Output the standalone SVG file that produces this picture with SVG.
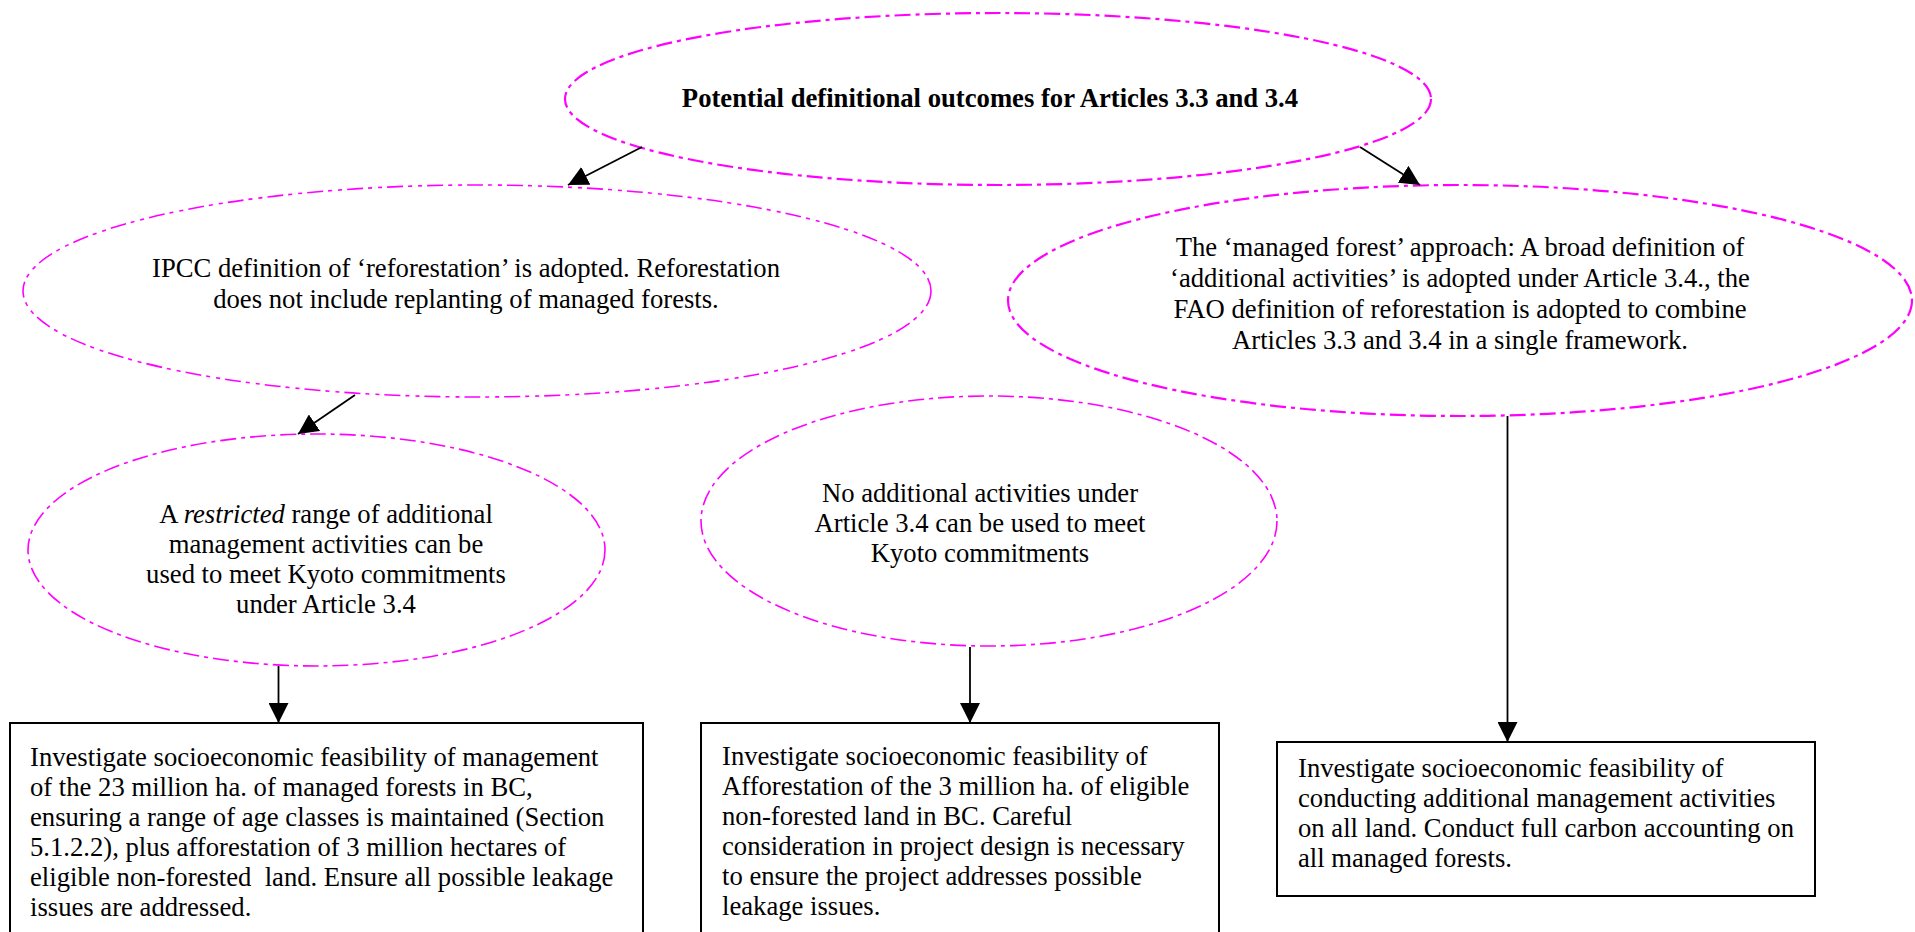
<svg xmlns="http://www.w3.org/2000/svg" width="1915" height="932" viewBox="0 0 1915 932">
<style>
  .bg { fill: #ffffff; }
  .oval { fill: #ffffff; stroke: #ff00ff; }
  .thick { stroke-width: 2.2; stroke-dasharray: 16 5 4 5; }
  .thin { stroke-width: 1.6; stroke-dasharray: 16 5 4 5; }
  .dd { stroke-width: 1.6; stroke-dasharray: 16 5 4 6 4 5; }
  .box { fill: #ffffff; stroke: #000000; stroke-width: 2; }
  text { font-family: "Liberation Serif", "Times New Roman", serif; font-size: 26.67px; fill: #000000; white-space: pre; }
  .c { text-anchor: middle; }
  .b { font-weight: bold; }
  .conn { stroke: #000000; stroke-width: 1.8; fill: none; marker-end: url(#arr); }
</style>
<defs>
  <marker id="arr" markerUnits="userSpaceOnUse" markerWidth="20" markerHeight="20" refX="20" refY="10" orient="auto">
    <path d="M0,0 L20,10 L0,20 z" fill="#000000"/>
  </marker>
</defs>
<rect class="bg" x="0" y="0" width="1915" height="932"/>

<g id="node-top">
  <ellipse class="oval thick" cx="998" cy="99" rx="433" ry="86"/>
  <text class="c b" x="990" y="107">Potential definitional outcomes for Articles 3.3 and 3.4</text>
</g>

<g id="node-ipcc">
  <ellipse class="oval dd" cx="477" cy="291" rx="454" ry="106"/>
  <text class="c" x="466" y="277">IPCC definition of ‘reforestation’ is adopted. Reforestation</text>
  <text class="c" x="466" y="308">does not include replanting of managed forests.</text>
</g>

<g id="node-managed">
  <ellipse class="oval thick" cx="1460" cy="300.5" rx="452" ry="115.5"/>
  <text class="c" x="1460" y="256">The ‘managed forest’ approach: A broad definition of</text>
  <text class="c" x="1460" y="287">‘additional activities’ is adopted under Article 3.4., the</text>
  <text class="c" x="1460" y="318">FAO definition of reforestation is adopted to combine</text>
  <text class="c" x="1460" y="349">Articles 3.3 and 3.4 in a single framework.</text>
</g>

<g id="node-restricted">
  <ellipse class="oval thin" cx="316.5" cy="550" rx="288.5" ry="116"/>
  <text class="c" x="326" y="523">A <tspan font-style="italic">restricted</tspan> range of additional</text>
  <text class="c" x="326" y="553">management activities can be</text>
  <text class="c" x="326" y="583">used to meet Kyoto commitments</text>
  <text class="c" x="326" y="613">under Article 3.4</text>
</g>

<g id="node-none">
  <ellipse class="oval thin" cx="989" cy="521" rx="288" ry="125"/>
  <text class="c" x="980" y="502">No additional activities under</text>
  <text class="c" x="980" y="532">Article 3.4 can be used to meet</text>
  <text class="c" x="980" y="562">Kyoto commitments</text>
</g>

<g id="box-1">
  <rect class="box" x="10" y="723" width="633" height="230"/>
  <text x="30" y="766">Investigate socioeconomic feasibility of management</text>
  <text x="30" y="796">of the 23 million ha. of managed forests in BC,</text>
  <text x="30" y="826">ensuring a range of age classes is maintained (Section</text>
  <text x="30" y="856">5.1.2.2), plus afforestation of 3 million hectares of</text>
  <text x="30" y="886">eligible non-forested  land. Ensure all possible leakage</text>
  <text x="30" y="916">issues are addressed.</text>
</g>

<g id="box-2">
  <rect class="box" x="701" y="723" width="518" height="230"/>
  <text x="722" y="765">Investigate socioeconomic feasibility of</text>
  <text x="722" y="795">Afforestation of the 3 million ha. of eligible</text>
  <text x="722" y="825">non-forested land in BC. Careful</text>
  <text x="722" y="855">consideration in project design is necessary</text>
  <text x="722" y="885">to ensure the project addresses possible</text>
  <text x="722" y="915">leakage issues.</text>
</g>

<g id="box-3">
  <rect class="box" x="1277" y="742" width="538" height="154"/>
  <text x="1298" y="777">Investigate socioeconomic feasibility of</text>
  <text x="1298" y="807">conducting additional management activities</text>
  <text x="1298" y="837">on all land. Conduct full carbon accounting on</text>
  <text x="1298" y="867">all managed forests.</text>
</g>

<g id="connectors">
  <line class="conn" x1="642" y1="147" x2="568" y2="185"/>
  <line class="conn" x1="1360" y1="147" x2="1420" y2="185"/>
  <line class="conn" x1="355" y1="395" x2="298" y2="434"/>
  <line class="conn" x1="278.5" y1="666" x2="278.5" y2="723"/>
  <line class="conn" x1="970" y1="647" x2="970" y2="723"/>
  <line class="conn" x1="1507.5" y1="416" x2="1507.5" y2="742"/>
</g>
</svg>
